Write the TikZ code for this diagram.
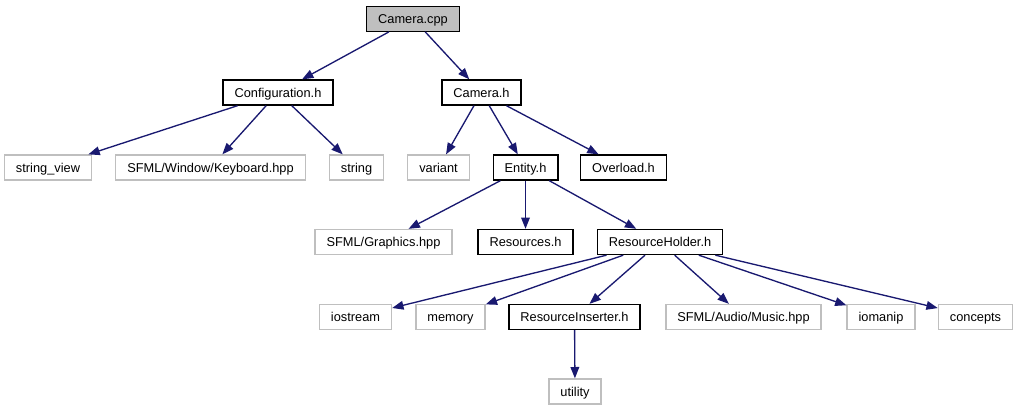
\documentclass[tikz,border=0pt]{standalone}
\usepackage{fontspec}
\setmainfont{Liberation Sans}
\usetikzlibrary{arrows.meta}
\definecolor{EdgeBlue}{HTML}{191970}
\definecolor{SysGray}{HTML}{BFBFBF}

\begin{document}
\begin{tikzpicture}[x=0.75pt, y=-0.75pt, font=\fontsize{9.6}{11}\selectfont,
	loc/.style={rectangle, draw=black, line width=1pt, fill=white,
		inner xsep=8.6pt, inner ysep=0pt, minimum height=18.75pt,
		text height=8.4pt, text depth=1.4pt},
	sys/.style={loc, draw=SysGray},
	root/.style={loc, fill=SysGray},
	incl/.style={-{Triangle[length=8.5pt, width=6.5pt]}, line width=1pt, EdgeBlue}]

	\useasboundingbox (0,0) rectangle (1019,411);

	\node[root] (cpp)  at (413,18.7)   {Camera.cpp};

	\node[loc]  (conf) at (278,92.5)   {Configuration.h};
	\node[loc]  (camh) at (481.5,92.5) {Camera.h};

	\node[sys]  (sv)   at (48,167.5)   {string\_view};
	\node[sys]  (kb)   at (210.5,167.5) {SFML/Window/Keyboard.hpp};
	\node[sys]  (str)  at (356.5,167.5) {string};
	\node[sys]  (var)  at (438.5,167.5) {variant};
	\node[loc]  (ent)  at (525.5,167.5) {Entity.h};
	\node[loc]  (ovl)  at (623.5,167.5) {Overload.h};

	\node[sys]  (gfx)  at (383.5,242)  {SFML/Graphics.hpp};
	\node[loc]  (res)  at (525.5,242)  {Resources.h};
	\node[loc]  (rh)   at (660,242)    {ResourceHolder.h};

	\node[sys]  (ios)  at (355.5,317)  {iostream};
	\node[sys]  (mem)  at (450.5,317)  {memory};
	\node[loc]  (ri)   at (574.5,317)  {ResourceInserter.h};
	\node[sys]  (mus)  at (743.5,317)  {SFML/Audio/Music.hpp};
	\node[sys]  (iom)  at (881,317)    {iomanip};
	\node[sys]  (con)  at (975.5,317)  {concepts};

	\node[sys]  (util) at (575,391.5)  {utility};

	\draw[incl] (cpp)  -- (conf);  \draw[incl] (cpp)  -- (camh);
	\draw[incl] (conf) -- (sv);    \draw[incl] (conf) -- (kb);   \draw[incl] (conf) -- (str);
	\draw[incl] (camh) -- (var);   \draw[incl] (camh) -- (ent);  \draw[incl] (camh) -- (ovl);
	\draw[incl] (ent)  -- (gfx);   \draw[incl] (ent)  -- (res);  \draw[incl] (ent)  -- (rh);
	\draw[incl] (rh)   -- (ios);   \draw[incl] (rh)   -- (mem);  \draw[incl] (rh)   -- (ri);
	\draw[incl] (rh)   -- (mus);   \draw[incl] (rh)   -- (iom);  \draw[incl] (rh)   -- (con);
	\draw[incl] (ri)   -- (util);
\end{tikzpicture}
\end{document}
